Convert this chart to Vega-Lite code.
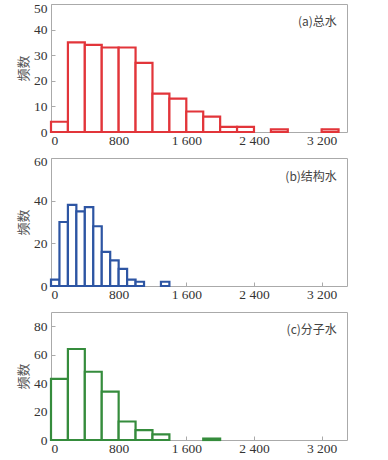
{
  "$schema": "https://vega.github.io/schema/vega-lite/v6.json",
  "background": "white",
  "padding": {"left": 17, "top": 0, "right": 5, "bottom": 0},
  "spacing": 26,
  "bounds": "flush",
  "datasets": {
    "a": [
      {"start": 0, "end": 200, "count": 4},
      {"start": 200, "end": 400, "count": 35},
      {"start": 400, "end": 600, "count": 34},
      {"start": 600, "end": 800, "count": 33},
      {"start": 800, "end": 1000, "count": 33},
      {"start": 1000, "end": 1200, "count": 27},
      {"start": 1200, "end": 1400, "count": 15},
      {"start": 1400, "end": 1600, "count": 13},
      {"start": 1600, "end": 1800, "count": 8},
      {"start": 1800, "end": 2000, "count": 6},
      {"start": 2000, "end": 2200, "count": 2},
      {"start": 2200, "end": 2400, "count": 2},
      {"start": 2600, "end": 2800, "count": 1},
      {"start": 3200, "end": 3400, "count": 1}
    ],
    "b": [
      {"start": 0, "end": 100, "count": 3},
      {"start": 100, "end": 200, "count": 30},
      {"start": 200, "end": 300, "count": 38},
      {"start": 300, "end": 400, "count": 35},
      {"start": 400, "end": 500, "count": 37},
      {"start": 500, "end": 600, "count": 28},
      {"start": 600, "end": 700, "count": 16},
      {"start": 700, "end": 800, "count": 12},
      {"start": 800, "end": 900, "count": 8},
      {"start": 900, "end": 1000, "count": 3},
      {"start": 1000, "end": 1100, "count": 2},
      {"start": 1300, "end": 1400, "count": 2}
    ],
    "c": [
      {"start": 0, "end": 200, "count": 43},
      {"start": 200, "end": 400, "count": 64},
      {"start": 400, "end": 600, "count": 48},
      {"start": 600, "end": 800, "count": 34},
      {"start": 800, "end": 1000, "count": 13},
      {"start": 1000, "end": 1200, "count": 7},
      {"start": 1200, "end": 1400, "count": 4},
      {"start": 1800, "end": 2000, "count": 1}
    ],
    "labels": [
      {"panel": "a", "label": "(a)总水", "start": 3380, "count": 43},
      {"panel": "b", "label": "(b)结构水", "start": 3380, "count": 51},
      {"panel": "c", "label": "(c)分子水", "start": 3380, "count": 77}
    ]
  },
  "config": {
    "view": {"stroke": "#aaaaaa", "strokeWidth": 1},
    "axis": {
      "grid": false,
      "domain": false,
      "tickSize": -4,
      "tickColor": "#aaaaaa",
      "labelFont": "Liberation Serif, Times New Roman, serif",
      "labelFontSize": 13.5,
      "labelColor": "#333333",
      "labelOverlap": false,
      "titleFont": "Noto Sans CJK SC",
      "titleFontSize": 13,
      "titleFontWeight": "normal",
      "titleColor": "#555555"
    },
    "axisX": {"labelPadding": 5},
    "axisY": {"labelPadding": 8, "titlePadding": 3},
    "text": {"align": "right", "baseline": "middle", "font": "Noto Sans CJK SC", "fontSize": 12, "color": "#444444"}
  },
  "vconcat": [
    {
      "width": 296,
      "height": 128,
      "encoding": {
        "x": {"field": "start", "type": "quantitative", "scale": {"domain": [0, 3500], "nice": false}, "axis": {"values": [0, 800, 1600, 2400, 3200], "title": null, "labelExpr": "replace(format(datum.value, ','), ',', ' ')"}},
        "y": {"field": "count", "type": "quantitative", "scale": {"domain": [0, 50], "nice": false}, "axis": {"values": [0, 10, 20, 30, 40, 50], "title": "频数", "labelOffset": {"condition": {"test": "datum.value === 50", "value": 4}, "value": 0}}}
      },
      "layer": [
        {
          "data": {"name": "a"},
          "mark": {"type": "bar", "fill": "white", "stroke": "#e2353a", "strokeWidth": 2.2},
          "encoding": {"x2": {"field": "end"}, "y2": {"datum": 0}}
        },
        {
          "data": {"name": "labels"},
          "transform": [{"filter": "datum.panel === 'a'"}],
          "mark": {"type": "text"},
          "encoding": {"text": {"field": "label"}}
        }
      ]
    },
    {
      "width": 296,
      "height": 128,
      "encoding": {
        "x": {"field": "start", "type": "quantitative", "scale": {"domain": [0, 3500], "nice": false}, "axis": {"values": [0, 800, 1600, 2400, 3200], "title": null, "labelExpr": "replace(format(datum.value, ','), ',', ' ')"}},
        "y": {"field": "count", "type": "quantitative", "scale": {"domain": [0, 60], "nice": false}, "axis": {"values": [0, 20, 40, 60], "title": "频数", "labelOffset": {"condition": {"test": "datum.value === 60", "value": 3}, "value": 0}}}
      },
      "layer": [
        {
          "data": {"name": "b"},
          "mark": {"type": "bar", "fill": "white", "stroke": "#2d55a3", "strokeWidth": 2.2},
          "encoding": {"x2": {"field": "end"}, "y2": {"datum": 0}}
        },
        {
          "data": {"name": "labels"},
          "transform": [{"filter": "datum.panel === 'b'"}],
          "mark": {"type": "text"},
          "encoding": {"text": {"field": "label"}}
        }
      ]
    },
    {
      "width": 296,
      "height": 128,
      "encoding": {
        "x": {"field": "start", "type": "quantitative", "scale": {"domain": [0, 3500], "nice": false}, "axis": {"values": [0, 800, 1600, 2400, 3200], "title": null, "labelExpr": "replace(format(datum.value, ','), ',', ' ')"}},
        "y": {"field": "count", "type": "quantitative", "scale": {"domain": [0, 90], "nice": false}, "axis": {"values": [0, 20, 40, 60, 80], "title": "频数"}}
      },
      "layer": [
        {
          "data": {"name": "c"},
          "mark": {"type": "bar", "fill": "white", "stroke": "#358c3c", "strokeWidth": 2.2},
          "encoding": {"x2": {"field": "end"}, "y2": {"datum": 0}}
        },
        {
          "data": {"name": "labels"},
          "transform": [{"filter": "datum.panel === 'c'"}],
          "mark": {"type": "text"},
          "encoding": {"text": {"field": "label"}}
        }
      ]
    }
  ]
}
